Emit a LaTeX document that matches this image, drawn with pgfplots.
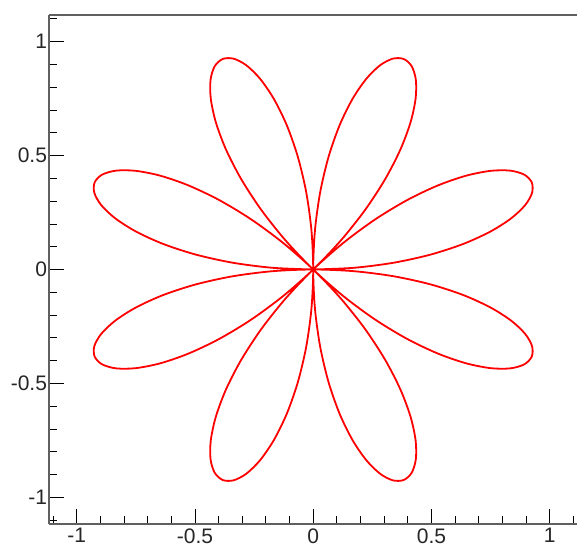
\documentclass[border=0pt]{standalone}
\usepackage{fontspec}
\setmainfont{Liberation Sans}
\usepackage{pgfplots}
\pgfplotsset{compat=1.18}
\definecolor{axisgray}{HTML}{606060}

\begin{document}
\begin{tikzpicture}
\begin{axis}[
    scale only axis,
    width=528.4bp,
    height=509bp,
    xmin=-1.117, xmax=1.117,
    ymin=-1.117, ymax=1.117,
    axis x line=box,
    axis y line=left,
    axis line style={-, draw=axisgray, line width=1.1bp},
    xtick pos=bottom,
    ytick pos=left,
    xtick={-1,-0.5,0,0.5,1},
    ytick={-1,-0.5,0,0.5,1},
    minor xtick={-1.1,-0.9,-0.8,-0.7,-0.6,-0.4,-0.3,-0.2,-0.1,0.1,0.2,0.3,0.4,0.6,0.7,0.8,0.9,1.1},
    minor ytick={-1.1,-0.9,-0.8,-0.7,-0.6,-0.4,-0.3,-0.2,-0.1,0.1,0.2,0.3,0.4,0.6,0.7,0.8,0.9,1.1},
    tick align=inside,
    major tick length=15bp,
    minor tick length=7.7bp,
    every tick/.style={black, line width=0.8bp},
    /pgf/number format/assume math mode=true,
    tick label style={font=\fontsize{21bp}{24bp}\selectfont, text=black!85},
    xticklabel style={yshift=-1bp},
    yticklabel style={xshift=1.5bp},
]
% rose curve, (angle, radius) pairs
\addplot[red, line width=1.8bp, smooth, data cs=polar] coordinates {
(0,0) (2.5,0.1736) (5,0.3420) (7.5,0.5) (10,0.6428) (12.5,0.7660) (15,0.8660) (17.5,0.9397) (20,0.9848) (22.5,1) (25,0.9848) (27.5,0.9397) (30,0.8660) (32.5,0.7660) (35,0.6428) (37.5,0.5) (40,0.3420) (42.5,0.1736) (45,0)
(47.5,-0.1736) (50,-0.3420) (52.5,-0.5) (55,-0.6428) (57.5,-0.7660) (60,-0.8660) (62.5,-0.9397) (65,-0.9848) (67.5,-1) (70,-0.9848) (72.5,-0.9397) (75,-0.8660) (77.5,-0.7660) (80,-0.6428) (82.5,-0.5) (85,-0.3420) (87.5,-0.1736) (90,0)
(92.5,0.1736) (95,0.3420) (97.5,0.5) (100,0.6428) (102.5,0.7660) (105,0.8660) (107.5,0.9397) (110,0.9848) (112.5,1) (115,0.9848) (117.5,0.9397) (120,0.8660) (122.5,0.7660) (125,0.6428) (127.5,0.5) (130,0.3420) (132.5,0.1736) (135,0)
(137.5,-0.1736) (140,-0.3420) (142.5,-0.5) (145,-0.6428) (147.5,-0.7660) (150,-0.8660) (152.5,-0.9397) (155,-0.9848) (157.5,-1) (160,-0.9848) (162.5,-0.9397) (165,-0.8660) (167.5,-0.7660) (170,-0.6428) (172.5,-0.5) (175,-0.3420) (177.5,-0.1736) (180,0)
(182.5,0.1736) (185,0.3420) (187.5,0.5) (190,0.6428) (192.5,0.7660) (195,0.8660) (197.5,0.9397) (200,0.9848) (202.5,1) (205,0.9848) (207.5,0.9397) (210,0.8660) (212.5,0.7660) (215,0.6428) (217.5,0.5) (220,0.3420) (222.5,0.1736) (225,0)
(227.5,-0.1736) (230,-0.3420) (232.5,-0.5) (235,-0.6428) (237.5,-0.7660) (240,-0.8660) (242.5,-0.9397) (245,-0.9848) (247.5,-1) (250,-0.9848) (252.5,-0.9397) (255,-0.8660) (257.5,-0.7660) (260,-0.6428) (262.5,-0.5) (265,-0.3420) (267.5,-0.1736) (270,0)
(272.5,0.1736) (275,0.3420) (277.5,0.5) (280,0.6428) (282.5,0.7660) (285,0.8660) (287.5,0.9397) (290,0.9848) (292.5,1) (295,0.9848) (297.5,0.9397) (300,0.8660) (302.5,0.7660) (305,0.6428) (307.5,0.5) (310,0.3420) (312.5,0.1736) (315,0)
(317.5,-0.1736) (320,-0.3420) (322.5,-0.5) (325,-0.6428) (327.5,-0.7660) (330,-0.8660) (332.5,-0.9397) (335,-0.9848) (337.5,-1) (340,-0.9848) (342.5,-0.9397) (345,-0.8660) (347.5,-0.7660) (350,-0.6428) (352.5,-0.5) (355,-0.3420) (357.5,-0.1736) (360,0)
};
\coordinate (bl) at (rel axis cs:0,0);
\end{axis}
\pgfresetboundingbox
\path (bl) ++(-49bp,-23bp) rectangle ++(579bp,547bp);
\end{tikzpicture}
\end{document}
